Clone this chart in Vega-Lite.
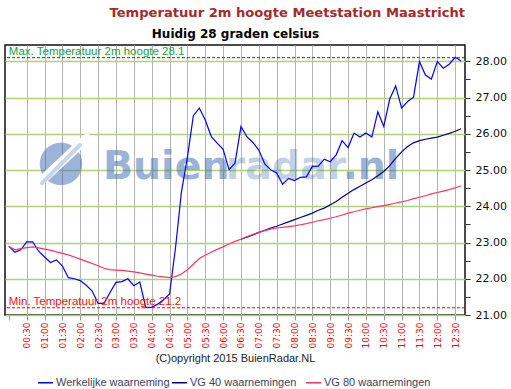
{
  "$schema": "https://vega.github.io/schema/vega-lite/v6.json",
  "width": 460,
  "height": 270,
  "autosize": {"type": "none"},
  "padding": {"left": 5, "top": 45, "right": 46, "bottom": 74},
  "background": "white",
  "config": {
    "view": {"stroke": "#111111", "strokeWidth": 1.5},
    "font": "DejaVu Sans"
  },
  "title": {
    "text": "Temperatuur 2m hoogte Meetstation Maastricht",
    "anchor": "end",
    "frame": "group",
    "color": "#a52a2a",
    "font": "DejaVu Sans",
    "fontSize": 13.1,
    "fontWeight": "bold",
    "offset": 7
  },
  "datasets": {
    "series": [
      {"t": 0, "s": "Werkelijke waarneming", "temp": 22.90},
      {"t": 10, "s": "Werkelijke waarneming", "temp": 22.73},
      {"t": 20, "s": "Werkelijke waarneming", "temp": 22.80},
      {"t": 30, "s": "Werkelijke waarneming", "temp": 23.02},
      {"t": 40, "s": "Werkelijke waarneming", "temp": 23.02},
      {"t": 50, "s": "Werkelijke waarneming", "temp": 22.76},
      {"t": 60, "s": "Werkelijke waarneming", "temp": 22.60},
      {"t": 70, "s": "Werkelijke waarneming", "temp": 22.45},
      {"t": 80, "s": "Werkelijke waarneming", "temp": 22.52},
      {"t": 90, "s": "Werkelijke waarneming", "temp": 22.35},
      {"t": 100, "s": "Werkelijke waarneming", "temp": 22.03},
      {"t": 110, "s": "Werkelijke waarneming", "temp": 22.00},
      {"t": 120, "s": "Werkelijke waarneming", "temp": 21.95},
      {"t": 130, "s": "Werkelijke waarneming", "temp": 21.82},
      {"t": 140, "s": "Werkelijke waarneming", "temp": 21.66},
      {"t": 150, "s": "Werkelijke waarneming", "temp": 21.32},
      {"t": 160, "s": "Werkelijke waarneming", "temp": 21.32},
      {"t": 170, "s": "Werkelijke waarneming", "temp": 21.62},
      {"t": 180, "s": "Werkelijke waarneming", "temp": 21.90},
      {"t": 190, "s": "Werkelijke waarneming", "temp": 21.92},
      {"t": 200, "s": "Werkelijke waarneming", "temp": 22.00},
      {"t": 210, "s": "Werkelijke waarneming", "temp": 21.81},
      {"t": 220, "s": "Werkelijke waarneming", "temp": 21.91},
      {"t": 230, "s": "Werkelijke waarneming", "temp": 21.21},
      {"t": 240, "s": "Werkelijke waarneming", "temp": 21.21},
      {"t": 250, "s": "Werkelijke waarneming", "temp": 21.30},
      {"t": 260, "s": "Werkelijke waarneming", "temp": 21.42},
      {"t": 270, "s": "Werkelijke waarneming", "temp": 21.58},
      {"t": 280, "s": "Werkelijke waarneming", "temp": 22.85},
      {"t": 290, "s": "Werkelijke waarneming", "temp": 24.40},
      {"t": 300, "s": "Werkelijke waarneming", "temp": 25.35},
      {"t": 310, "s": "Werkelijke waarneming", "temp": 26.50},
      {"t": 320, "s": "Werkelijke waarneming", "temp": 26.71},
      {"t": 330, "s": "Werkelijke waarneming", "temp": 26.38},
      {"t": 340, "s": "Werkelijke waarneming", "temp": 25.93},
      {"t": 350, "s": "Werkelijke waarneming", "temp": 25.74},
      {"t": 360, "s": "Werkelijke waarneming", "temp": 25.57},
      {"t": 370, "s": "Werkelijke waarneming", "temp": 25.01},
      {"t": 380, "s": "Werkelijke waarneming", "temp": 25.19},
      {"t": 390, "s": "Werkelijke waarneming", "temp": 26.20},
      {"t": 400, "s": "Werkelijke waarneming", "temp": 25.92},
      {"t": 410, "s": "Werkelijke waarneming", "temp": 25.76},
      {"t": 420, "s": "Werkelijke waarneming", "temp": 25.55},
      {"t": 430, "s": "Werkelijke waarneming", "temp": 25.17},
      {"t": 440, "s": "Werkelijke waarneming", "temp": 25.01},
      {"t": 450, "s": "Werkelijke waarneming", "temp": 24.92},
      {"t": 460, "s": "Werkelijke waarneming", "temp": 24.61},
      {"t": 470, "s": "Werkelijke waarneming", "temp": 24.77},
      {"t": 480, "s": "Werkelijke waarneming", "temp": 24.71},
      {"t": 490, "s": "Werkelijke waarneming", "temp": 24.80},
      {"t": 500, "s": "Werkelijke waarneming", "temp": 24.81},
      {"t": 510, "s": "Werkelijke waarneming", "temp": 25.10},
      {"t": 520, "s": "Werkelijke waarneming", "temp": 25.11},
      {"t": 530, "s": "Werkelijke waarneming", "temp": 25.30},
      {"t": 540, "s": "Werkelijke waarneming", "temp": 25.23},
      {"t": 550, "s": "Werkelijke waarneming", "temp": 25.42},
      {"t": 560, "s": "Werkelijke waarneming", "temp": 25.81},
      {"t": 570, "s": "Werkelijke waarneming", "temp": 25.62},
      {"t": 580, "s": "Werkelijke waarneming", "temp": 26.02},
      {"t": 590, "s": "Werkelijke waarneming", "temp": 25.91},
      {"t": 600, "s": "Werkelijke waarneming", "temp": 26.02},
      {"t": 610, "s": "Werkelijke waarneming", "temp": 25.91},
      {"t": 620, "s": "Werkelijke waarneming", "temp": 26.61},
      {"t": 630, "s": "Werkelijke waarneming", "temp": 26.20},
      {"t": 640, "s": "Werkelijke waarneming", "temp": 26.96},
      {"t": 650, "s": "Werkelijke waarneming", "temp": 27.32},
      {"t": 660, "s": "Werkelijke waarneming", "temp": 26.71},
      {"t": 670, "s": "Werkelijke waarneming", "temp": 26.89},
      {"t": 680, "s": "Werkelijke waarneming", "temp": 27.01},
      {"t": 690, "s": "Werkelijke waarneming", "temp": 27.99},
      {"t": 700, "s": "Werkelijke waarneming", "temp": 27.62},
      {"t": 710, "s": "Werkelijke waarneming", "temp": 27.51},
      {"t": 720, "s": "Werkelijke waarneming", "temp": 27.99},
      {"t": 730, "s": "Werkelijke waarneming", "temp": 27.81},
      {"t": 740, "s": "Werkelijke waarneming", "temp": 27.92},
      {"t": 750, "s": "Werkelijke waarneming", "temp": 28.11},
      {"t": 760, "s": "Werkelijke waarneming", "temp": 28.01},
      {"t": 390, "s": "VG 40 waarnemingen", "temp": 23.09},
      {"t": 400, "s": "VG 40 waarnemingen", "temp": 23.15},
      {"t": 410, "s": "VG 40 waarnemingen", "temp": 23.21},
      {"t": 420, "s": "VG 40 waarnemingen", "temp": 23.28},
      {"t": 430, "s": "VG 40 waarnemingen", "temp": 23.34},
      {"t": 440, "s": "VG 40 waarnemingen", "temp": 23.40},
      {"t": 450, "s": "VG 40 waarnemingen", "temp": 23.45},
      {"t": 460, "s": "VG 40 waarnemingen", "temp": 23.51},
      {"t": 470, "s": "VG 40 waarnemingen", "temp": 23.57},
      {"t": 480, "s": "VG 40 waarnemingen", "temp": 23.63},
      {"t": 490, "s": "VG 40 waarnemingen", "temp": 23.69},
      {"t": 500, "s": "VG 40 waarnemingen", "temp": 23.75},
      {"t": 510, "s": "VG 40 waarnemingen", "temp": 23.81},
      {"t": 520, "s": "VG 40 waarnemingen", "temp": 23.89},
      {"t": 530, "s": "VG 40 waarnemingen", "temp": 23.95},
      {"t": 540, "s": "VG 40 waarnemingen", "temp": 24.04},
      {"t": 550, "s": "VG 40 waarnemingen", "temp": 24.13},
      {"t": 560, "s": "VG 40 waarnemingen", "temp": 24.25},
      {"t": 570, "s": "VG 40 waarnemingen", "temp": 24.36},
      {"t": 580, "s": "VG 40 waarnemingen", "temp": 24.46},
      {"t": 590, "s": "VG 40 waarnemingen", "temp": 24.55},
      {"t": 600, "s": "VG 40 waarnemingen", "temp": 24.64},
      {"t": 610, "s": "VG 40 waarnemingen", "temp": 24.73},
      {"t": 620, "s": "VG 40 waarnemingen", "temp": 24.84},
      {"t": 630, "s": "VG 40 waarnemingen", "temp": 24.96},
      {"t": 640, "s": "VG 40 waarnemingen", "temp": 25.12},
      {"t": 650, "s": "VG 40 waarnemingen", "temp": 25.32},
      {"t": 660, "s": "VG 40 waarnemingen", "temp": 25.50},
      {"t": 670, "s": "VG 40 waarnemingen", "temp": 25.65},
      {"t": 680, "s": "VG 40 waarnemingen", "temp": 25.75},
      {"t": 690, "s": "VG 40 waarnemingen", "temp": 25.81},
      {"t": 700, "s": "VG 40 waarnemingen", "temp": 25.85},
      {"t": 710, "s": "VG 40 waarnemingen", "temp": 25.88},
      {"t": 720, "s": "VG 40 waarnemingen", "temp": 25.91},
      {"t": 730, "s": "VG 40 waarnemingen", "temp": 25.96},
      {"t": 740, "s": "VG 40 waarnemingen", "temp": 26.01},
      {"t": 750, "s": "VG 40 waarnemingen", "temp": 26.07},
      {"t": 760, "s": "VG 40 waarnemingen", "temp": 26.14},
      {"t": 0, "s": "VG 80 waarnemingen", "temp": 22.90},
      {"t": 10, "s": "VG 80 waarnemingen", "temp": 22.80},
      {"t": 20, "s": "VG 80 waarnemingen", "temp": 22.83},
      {"t": 30, "s": "VG 80 waarnemingen", "temp": 22.86},
      {"t": 40, "s": "VG 80 waarnemingen", "temp": 22.88},
      {"t": 50, "s": "VG 80 waarnemingen", "temp": 22.85},
      {"t": 60, "s": "VG 80 waarnemingen", "temp": 22.82},
      {"t": 70, "s": "VG 80 waarnemingen", "temp": 22.79},
      {"t": 80, "s": "VG 80 waarnemingen", "temp": 22.74},
      {"t": 90, "s": "VG 80 waarnemingen", "temp": 22.70},
      {"t": 100, "s": "VG 80 waarnemingen", "temp": 22.66},
      {"t": 110, "s": "VG 80 waarnemingen", "temp": 22.60},
      {"t": 120, "s": "VG 80 waarnemingen", "temp": 22.54},
      {"t": 130, "s": "VG 80 waarnemingen", "temp": 22.48},
      {"t": 140, "s": "VG 80 waarnemingen", "temp": 22.42},
      {"t": 150, "s": "VG 80 waarnemingen", "temp": 22.36},
      {"t": 160, "s": "VG 80 waarnemingen", "temp": 22.29},
      {"t": 170, "s": "VG 80 waarnemingen", "temp": 22.25},
      {"t": 180, "s": "VG 80 waarnemingen", "temp": 22.24},
      {"t": 190, "s": "VG 80 waarnemingen", "temp": 22.23},
      {"t": 200, "s": "VG 80 waarnemingen", "temp": 22.21},
      {"t": 210, "s": "VG 80 waarnemingen", "temp": 22.19},
      {"t": 220, "s": "VG 80 waarnemingen", "temp": 22.16},
      {"t": 230, "s": "VG 80 waarnemingen", "temp": 22.13},
      {"t": 240, "s": "VG 80 waarnemingen", "temp": 22.10},
      {"t": 250, "s": "VG 80 waarnemingen", "temp": 22.07},
      {"t": 260, "s": "VG 80 waarnemingen", "temp": 22.05},
      {"t": 270, "s": "VG 80 waarnemingen", "temp": 22.03},
      {"t": 280, "s": "VG 80 waarnemingen", "temp": 22.06},
      {"t": 290, "s": "VG 80 waarnemingen", "temp": 22.13},
      {"t": 300, "s": "VG 80 waarnemingen", "temp": 22.25},
      {"t": 310, "s": "VG 80 waarnemingen", "temp": 22.40},
      {"t": 320, "s": "VG 80 waarnemingen", "temp": 22.56},
      {"t": 330, "s": "VG 80 waarnemingen", "temp": 22.65},
      {"t": 340, "s": "VG 80 waarnemingen", "temp": 22.73},
      {"t": 350, "s": "VG 80 waarnemingen", "temp": 22.81},
      {"t": 360, "s": "VG 80 waarnemingen", "temp": 22.88},
      {"t": 370, "s": "VG 80 waarnemingen", "temp": 22.96},
      {"t": 380, "s": "VG 80 waarnemingen", "temp": 23.03},
      {"t": 390, "s": "VG 80 waarnemingen", "temp": 23.09},
      {"t": 400, "s": "VG 80 waarnemingen", "temp": 23.16},
      {"t": 410, "s": "VG 80 waarnemingen", "temp": 23.22},
      {"t": 420, "s": "VG 80 waarnemingen", "temp": 23.28},
      {"t": 430, "s": "VG 80 waarnemingen", "temp": 23.33},
      {"t": 440, "s": "VG 80 waarnemingen", "temp": 23.37},
      {"t": 450, "s": "VG 80 waarnemingen", "temp": 23.40},
      {"t": 460, "s": "VG 80 waarnemingen", "temp": 23.42},
      {"t": 470, "s": "VG 80 waarnemingen", "temp": 23.44},
      {"t": 480, "s": "VG 80 waarnemingen", "temp": 23.46},
      {"t": 490, "s": "VG 80 waarnemingen", "temp": 23.49},
      {"t": 500, "s": "VG 80 waarnemingen", "temp": 23.52},
      {"t": 510, "s": "VG 80 waarnemingen", "temp": 23.56},
      {"t": 520, "s": "VG 80 waarnemingen", "temp": 23.60},
      {"t": 530, "s": "VG 80 waarnemingen", "temp": 23.63},
      {"t": 540, "s": "VG 80 waarnemingen", "temp": 23.67},
      {"t": 550, "s": "VG 80 waarnemingen", "temp": 23.71},
      {"t": 560, "s": "VG 80 waarnemingen", "temp": 23.76},
      {"t": 570, "s": "VG 80 waarnemingen", "temp": 23.81},
      {"t": 580, "s": "VG 80 waarnemingen", "temp": 23.85},
      {"t": 590, "s": "VG 80 waarnemingen", "temp": 23.89},
      {"t": 600, "s": "VG 80 waarnemingen", "temp": 23.93},
      {"t": 610, "s": "VG 80 waarnemingen", "temp": 23.96},
      {"t": 620, "s": "VG 80 waarnemingen", "temp": 23.99},
      {"t": 630, "s": "VG 80 waarnemingen", "temp": 24.02},
      {"t": 640, "s": "VG 80 waarnemingen", "temp": 24.05},
      {"t": 650, "s": "VG 80 waarnemingen", "temp": 24.09},
      {"t": 660, "s": "VG 80 waarnemingen", "temp": 24.12},
      {"t": 670, "s": "VG 80 waarnemingen", "temp": 24.16},
      {"t": 680, "s": "VG 80 waarnemingen", "temp": 24.21},
      {"t": 690, "s": "VG 80 waarnemingen", "temp": 24.25},
      {"t": 700, "s": "VG 80 waarnemingen", "temp": 24.29},
      {"t": 710, "s": "VG 80 waarnemingen", "temp": 24.34},
      {"t": 720, "s": "VG 80 waarnemingen", "temp": 24.38},
      {"t": 730, "s": "VG 80 waarnemingen", "temp": 24.42},
      {"t": 740, "s": "VG 80 waarnemingen", "temp": 24.46},
      {"t": 750, "s": "VG 80 waarnemingen", "temp": 24.51},
      {"t": 760, "s": "VG 80 waarnemingen", "temp": 24.56}
    ],
    "extremes": [
      {"kind": "max", "label": "Max. Temperatuur 2m hoogte 28.1", "value": 28.1},
      {"kind": "min", "label": "Min. Temperatuur 2m hoogte 21.2", "value": 21.2}
    ],
    "watermark": [{"name": "Buienradar.nl"}]
  },
  "layer": [
    {
      "data": {"name": "watermark"},
      "mark": {"type": "point", "shape": "circle", "filled": true, "size": 1810, "color": "#3b6ab2", "opacity": 0.5},
      "encoding": {
        "x": {"datum": 87.6, "type": "quantitative", "axis": null},
        "y": {"datum": 25.17, "type": "quantitative", "axis": null}
      }
    },
    {
      "data": {"name": "watermark"},
      "mark": {"type": "rule", "color": "white", "strokeWidth": 9, "strokeCap": "round"},
      "encoding": {
        "x": {"datum": 52.3, "type": "quantitative", "axis": null},
        "y": {"datum": 24.67, "type": "quantitative", "axis": null},
        "x2": {"datum": 131.3},
        "y2": {"datum": 25.88}
      }
    },
    {
      "data": {"name": "watermark"},
      "mark": {"type": "rule", "color": "#c5d5ec", "strokeWidth": 4, "strokeCap": "round"},
      "encoding": {
        "x": {"datum": 55.7, "type": "quantitative", "axis": null},
        "y": {"datum": 24.64, "type": "quantitative", "axis": null},
        "x2": {"datum": 119.5},
        "y2": {"datum": 25.69}
      }
    },
    {
      "data": {"name": "watermark"},
      "mark": {"type": "text", "text": "Buien", "font": "DejaVu Sans", "fontWeight": "bold", "fontSize": 39.5, "align": "left", "baseline": "alphabetic", "color": "#3b6ab2", "opacity": 0.5},
      "encoding": {
        "x": {"datum": 158, "type": "quantitative", "axis": null},
        "y": {"datum": 24.75, "type": "quantitative", "axis": null}
      }
    },
    {
      "data": {"name": "watermark"},
      "mark": {"type": "text", "text": "radar", "font": "DejaVu Sans", "fontWeight": "bold", "fontSize": 39.5, "align": "left", "baseline": "alphabetic", "color": "#3b6ab2", "opacity": 0.3},
      "encoding": {
        "x": {"datum": 364.5, "type": "quantitative", "axis": null},
        "y": {"datum": 24.75, "type": "quantitative", "axis": null}
      }
    },
    {
      "data": {"name": "watermark"},
      "mark": {"type": "text", "text": ".nl", "font": "DejaVu Sans", "fontWeight": "bold", "fontSize": 39.5, "align": "left", "baseline": "alphabetic", "color": "#3b6ab2", "opacity": 0.5},
      "encoding": {
        "x": {"datum": 561, "type": "quantitative", "axis": null},
        "y": {"datum": 24.75, "type": "quantitative", "axis": null}
      }
    },
    {
      "data": {"name": "series"},
      "mark": {"type": "line", "strokeWidth": 1.2, "clip": true},
      "encoding": {
        "x": {
          "field": "t",
          "type": "quantitative",
          "scale": {"domain": [-6.5, 766.5], "nice": false, "zero": false},
          "axis": {
            "orient": "bottom",
            "values": [0, 30, 60, 90, 120, 150, 180, 210, 240, 270, 300, 330, 360, 390, 420, 450, 480, 510, 540, 570, 600, 630, 660, 690, 720, 750],
            "labelExpr": "datum.value == 0 ? '' : (floor(datum.value / 60) < 10 ? '0' : '') + floor(datum.value / 60) + ':' + (datum.value % 60 == 0 ? '00' : '30')",
            "labelAngle": 270,
            "labelColor": "#ff0000",
            "labelFont": "DejaVu Sans",
            "labelFontSize": 9,
            "labelPadding": 2,
            "labelOverlap": false,
            "labelFlush": false,
            "tickSize": 5,
            "tickColor": "#999999",
            "domain": false,
            "grid": true,
            "gridColor": "#b4b4b4",
            "gridWidth": 1,
            "gridOpacity": {"condition": {"test": "datum.value == 0", "value": 0}, "value": 1},
            "title": "(C)opyright 2015 BuienRadar.NL",
            "titleFont": "Liberation Sans",
            "titleFontSize": 11,
            "titleFontWeight": "normal",
            "titleColor": "#222222",
            "titlePadding": 5
          }
        },
        "y": {
          "field": "temp",
          "type": "quantitative",
          "scale": {"domain": [21, 28.45], "nice": false, "zero": false},
          "axis": {
            "orient": "right",
            "values": [21, 21.5, 22, 22.5, 23, 23.5, 24, 24.5, 25, 25.5, 26, 26.5, 27, 27.5, 28],
            "labelExpr": "datum.value % 1 == 0 ? format(datum.value, '.2f') : ''",
            "labelFont": "DejaVu Sans",
            "labelFontSize": 11,
            "labelColor": "#111111",
            "labelPadding": 5,
            "labelOverlap": false,
            "labelFlush": false,
            "tickSize": 5,
            "tickColor": "#333333",
            "domain": false,
            "grid": true,
            "gridWidth": 1.5,
            "gridColor": {"condition": {"test": "datum.value % 1 == 0", "value": "#a8d672"}, "value": "transparent"},
            "title": null
          }
        },
        "color": {
          "field": "s",
          "type": "nominal",
          "scale": {
            "domain": ["Werkelijke waarneming", "VG 40 waarnemingen", "VG 80 waarnemingen"],
            "range": ["#0000ff", "#00008b", "#ff3366"]
          },
          "legend": {
            "orient": "none",
            "legendX": 32,
            "legendY": 329,
            "direction": "horizontal",
            "columns": 3,
            "gridAlign": "all",
            "title": null,
            "symbolType": "stroke",
            "symbolSize": 225,
            "symbolStrokeWidth": 1.5,
            "labelFont": "Liberation Sans",
            "labelFontSize": 11,
            "labelColor": "#404060",
            "labelOffset": 2,
            "columnPadding": -1
          }
        }
      }
    },
    {
      "data": {"name": "extremes"},
      "transform": [{"filter": "datum.kind == 'max'"}],
      "mark": {"type": "rule", "color": "#006400", "strokeDash": [3, 2], "strokeWidth": 1},
      "encoding": {
        "y": {"field": "value", "type": "quantitative", "axis": null}
      }
    },
    {
      "data": {"name": "extremes"},
      "transform": [{"filter": "datum.kind == 'min'"}],
      "mark": {"type": "rule", "color": "#ff0000", "strokeDash": [3, 2], "strokeWidth": 1},
      "encoding": {
        "y": {"field": "value", "type": "quantitative", "axis": null}
      }
    },
    {
      "data": {"name": "extremes"},
      "transform": [{"filter": "datum.kind == 'max'"}],
      "mark": {"type": "text", "align": "left", "baseline": "bottom", "dy": -1, "font": "Liberation Sans", "fontSize": 11.5, "color": "#22a040"},
      "encoding": {
        "x": {
          "datum": 0,
          "type": "quantitative",
          "axis": {
            "orient": "top",
            "labels": false,
            "ticks": false,
            "domain": false,
            "grid": false,
            "title": "Huidig 28 graden celsius",
            "titleFont": "DejaVu Sans",
            "titleFontSize": 12,
            "titleFontWeight": "bold",
            "titleColor": "#000000",
            "titlePadding": 5
          }
        },
        "y": {"field": "value", "type": "quantitative", "axis": null},
        "text": {"field": "label"}
      }
    },
    {
      "data": {"name": "extremes"},
      "transform": [{"filter": "datum.kind == 'min'"}],
      "mark": {"type": "text", "align": "left", "baseline": "bottom", "dy": -1, "font": "Liberation Sans", "fontSize": 11.5, "color": "#ff1010"},
      "encoding": {
        "x": {"datum": 0, "type": "quantitative", "axis": null},
        "y": {
          "field": "value",
          "type": "quantitative",
          "axis": {
            "orient": "left",
            "labels": false,
            "ticks": false,
            "domain": false,
            "grid": false,
            "title": null
          }
        },
        "text": {"field": "label"}
      }
    }
  ]
}
